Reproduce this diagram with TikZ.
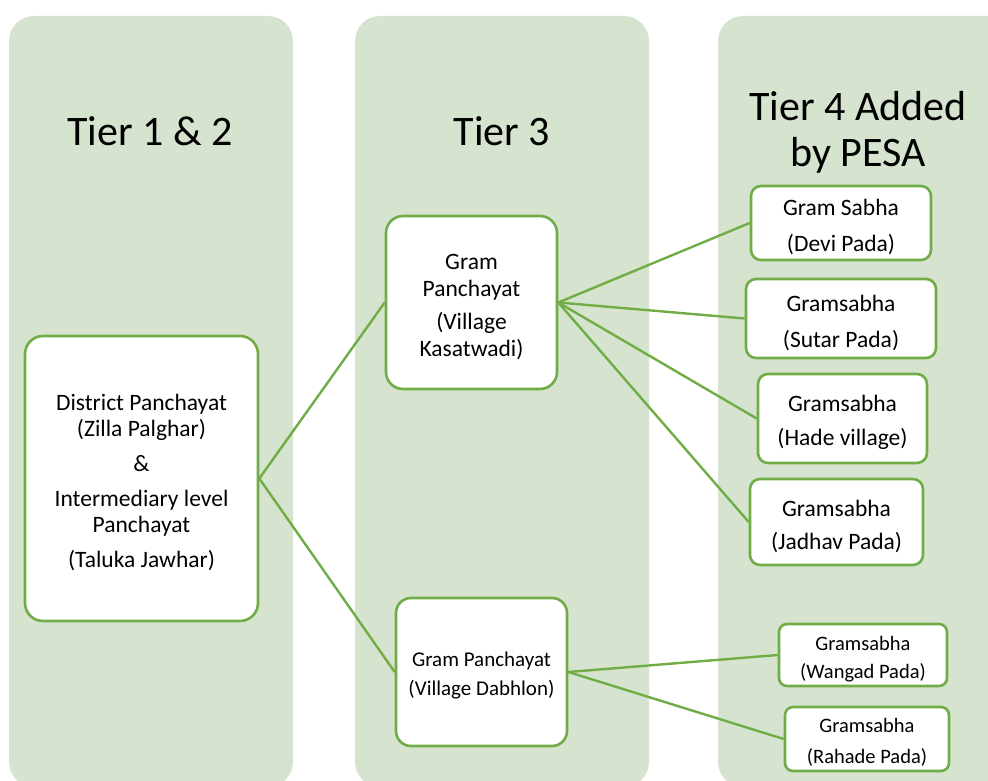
\documentclass[tikz,border=0pt]{standalone}
\usepackage{fontspec}
\setmainfont{Carlito}
\definecolor{colbg}{HTML}{D5E3CF}
\definecolor{edgegreen}{HTML}{70AD47}
\newcommand\padtop{\rule{0pt}{1.05em}}
\begin{document}
\begin{tikzpicture}[x=1pt,y=-1pt,
  column/.style={fill=colbg, draw=none, rounded corners=25pt},
  tierlabel/.style={font=\fontsize{42}{46}\selectfont, inner sep=0pt, align=center},
  unitbox/.style={draw=edgegreen, line width=2.6pt, fill=white, inner sep=0pt, align=center,
     font=\fontsize{23.5}{26}\selectfont},
  smallbox/.style={unitbox, font=\fontsize{20.5}{28}\selectfont},
  link/.style={draw=edgegreen, line width=2.4pt}
]
\useasboundingbox (0,0) rectangle (988,781);
\clip (0,0) rectangle (988,781);
% columns
\fill[column] (9,16) rectangle (293,787);
\fill[column] (355,16) rectangle (649,787);
\fill[column] (718,16) rectangle (1020,787);
% titles
\node[tierlabel, anchor=base] (t12) at (150,146) {Tier 1 \& 2};
\node[tierlabel, anchor=base] (t3) at (502,146) {Tier 3};
\node[tierlabel, anchor=base] (t4) at (858,167) {Tier 4 Added\\by PESA};
% boxes
\node[unitbox, rounded corners=18pt, minimum width=233pt, minimum height=285pt] (dist) at (141.5,478.5)
  {\padtop District Panchayat\\(Zilla Palghar)\\[9pt]\&\\[9pt]Intermediary level\\Panchayat\\[9pt](Taluka Jawhar)};
\node[unitbox, rounded corners=17pt, minimum width=171pt, minimum height=173pt,
  font=\fontsize{23.5}{27}\selectfont] (kas) at (471.5,302.5)
  {\padtop Gram\\Panchayat\\[6pt](Village\\Kasatwadi)};
\node[unitbox, rounded corners=15pt, minimum width=171pt, minimum height=148pt,
  font=\fontsize{21}{29}\selectfont] (dab) at (481.5,672)
  {\padtop Gram Panchayat\\(Village Dabhlon)};
\node[unitbox, rounded corners=10pt, minimum width=180pt, minimum height=74pt] (devi) at (841,223)
  {\padtop Gram Sabha\\[10pt](Devi Pada)};
\node[unitbox, rounded corners=10pt, minimum width=190pt, minimum height=79pt] (sutar) at (841,318.5)
  {\padtop Gramsabha\\[10pt](Sutar Pada)};
\node[unitbox, rounded corners=10pt, minimum width=169pt, minimum height=89pt] (hade) at (842.5,418.5)
  {\padtop Gramsabha\\[8pt](Hade village)};
\node[unitbox, rounded corners=10pt, minimum width=173pt, minimum height=86pt] (jadhav) at (836.5,522)
  {\padtop Gramsabha\\[7pt](Jadhav Pada)};
\node[smallbox, rounded corners=8pt, minimum width=168pt, minimum height=62pt] (wangad) at (863,655)
  {\padtop Gramsabha\\(Wangad Pada)};
\node[smallbox, rounded corners=8pt, minimum width=164pt, minimum height=64pt,
  font=\fontsize{20.5}{31}\selectfont] (rahade) at (867,739)
  {\padtop Gramsabha\\(Rahade Pada)};
% connectors
\draw[link] (dist.east) -- (kas.west);
\draw[link] (dist.east) -- (dab.west);
\draw[link] (kas.east) -- (devi.west);
\draw[link] (kas.east) -- (sutar.west);
\draw[link] (kas.east) -- (hade.west);
\draw[link] (kas.east) -- (jadhav.west);
\draw[link] (dab.east) -- (wangad.west);
\draw[link] (dab.east) -- (rahade.west);
\end{tikzpicture}
\end{document}
